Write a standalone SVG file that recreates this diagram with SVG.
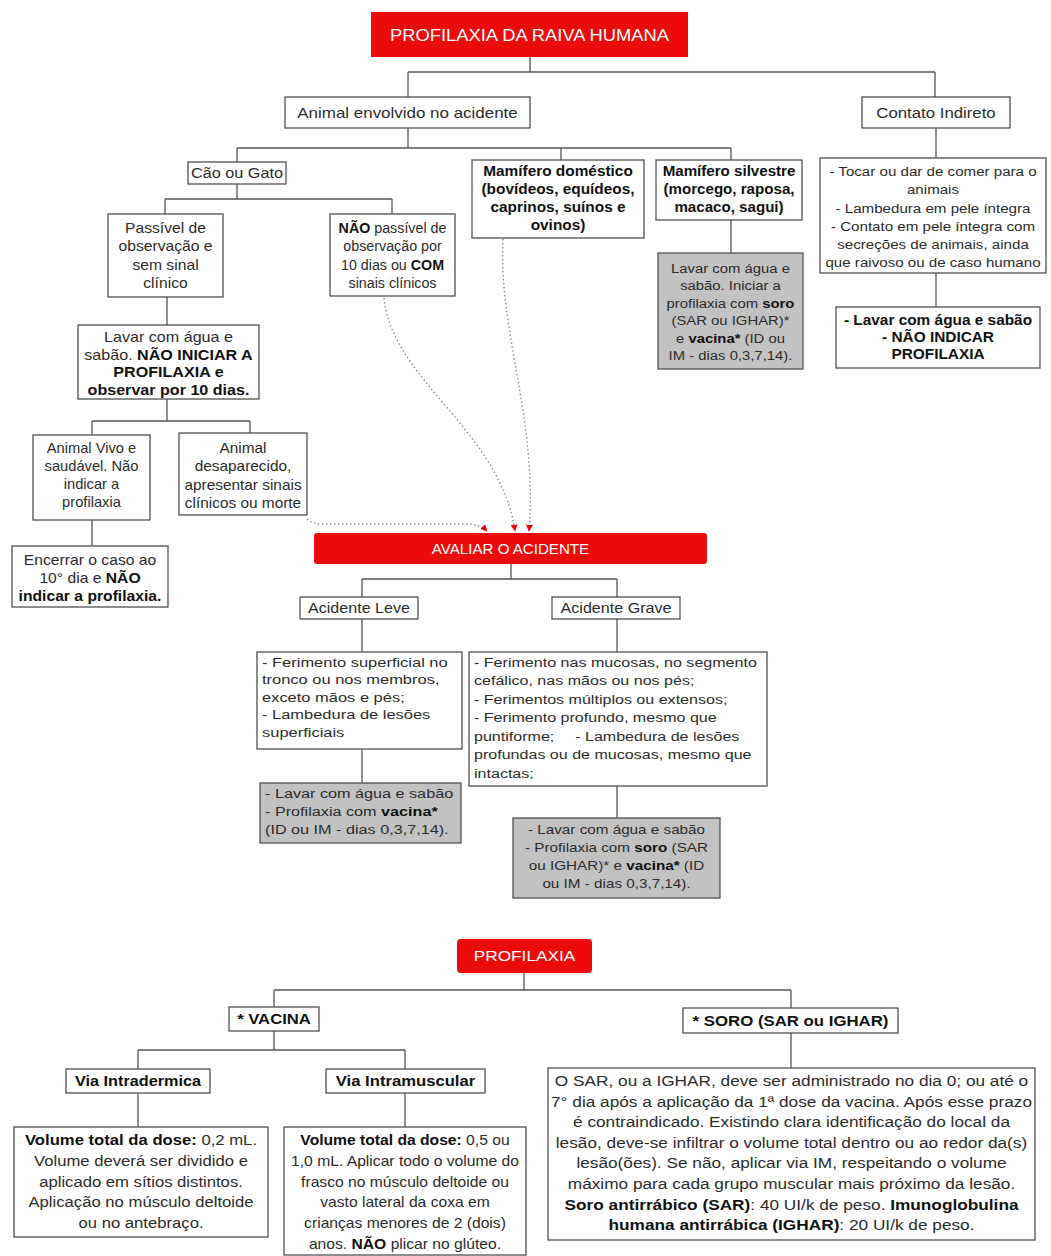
<svg xmlns="http://www.w3.org/2000/svg" width="1051" height="1256" viewBox="0 0 1051 1256">
<defs>
<style>
.bx{fill:#fff;stroke:#505050;stroke-width:1.3}
.gy{fill:#c2c2c2;stroke:#505050;stroke-width:1.3}
.rd{fill:#ec0b0b}
.t{font-family:"Liberation Sans",Arial,Helvetica,sans-serif;fill:#2b2b2b}
.m{text-anchor:middle}
.b{font-weight:bold;fill:#111}
.w{fill:#fff}
.ln{fill:none;stroke:#555;stroke-width:1.3}
.dt{fill:none;stroke:#8c8c8c;stroke-width:1.4;stroke-dasharray:1.5 2.5}
</style>
<marker id="arr" viewBox="0 0 10 10" refX="9" refY="5" markerWidth="5" markerHeight="5" orient="auto"><path d="M0,0 L10,5 L0,10 z" fill="#e00"/></marker>
</defs>
<rect width="1051" height="1256" fill="#fff"/>

<g id="connectors">
<path class="ln" d="M530 57V72M408 72H935M408 72V97M935 72V97"/>
<path class="ln" d="M408 128V148M237 148H731M237 148V162M561 148V160M731 148V160"/>
<path class="ln" d="M731 220V253"/>
<path class="ln" d="M936 128V158M936 273V307"/>
<path class="ln" d="M237 184V199M165 199H392M165 199V214M392 199V214"/>
<path class="ln" d="M167 297V325M167 399V421M92 421H250M92 421V435M250 421V433M92 520V546"/>
<path class="ln" d="M511 564V579M362 579H617M362 579V597M617 579V597M362 619V652M617 619V652M362 749V783M617 786V818"/>
<path class="ln" d="M524 973V990M274 990H791M274 990V1007M791 990V1008M274 1031V1050M138 1050H405M138 1050V1069M405 1050V1069M138 1093V1127M405 1093V1127M791 1033V1068"/>
<path class="dt" d="M307 519Q312 524 322 524H466Q480 524 487 531" marker-end="url(#arr)"/>
<path class="dt" d="M384 298C392 380 500 430 515 531" marker-end="url(#arr)"/>
<path class="dt" d="M503 239C498 330 538 420 529 531" marker-end="url(#arr)"/>
</g>

<g id="n-title">
<rect class="rd" x="371" y="12" width="317" height="45"/>
<text class="t m w" font-size="17" transform="translate(529.5 41) scale(1.08 1)">PROFILAXIA DA RAIVA HUMANA</text>
</g>

<g id="n-animal">
<rect class="bx" x="285" y="97" width="245" height="31"/>
<text class="t m" font-size="15" transform="translate(407.5 118) scale(1.13 1)">Animal envolvido no acidente</text>
</g>

<g id="n-contato">
<rect class="bx" x="862" y="97" width="148" height="31"/>
<text class="t m" font-size="15" transform="translate(936 118) scale(1.12 1)">Contato Indireto</text>
</g>

<g id="n-caogato">
<rect class="bx" x="188" y="162" width="98" height="22"/>
<text class="t m" font-size="14" transform="translate(237 178) scale(1.16 1)">Cão ou Gato</text>
</g>

<g id="n-domestico">
<rect class="bx" x="472" y="160" width="172" height="78"/>
<text class="t m b" font-size="14" transform="translate(558 176) scale(1.1 1)"><tspan x="0">Mamífero doméstico</tspan><tspan x="0" dy="18">(bovídeos, equídeos,</tspan><tspan x="0" dy="18">caprinos, suínos e</tspan><tspan x="0" dy="18">ovinos)</tspan></text>
</g>

<g id="n-silvestre">
<rect class="bx" x="656" y="160" width="146" height="60"/>
<text class="t m b" font-size="14" transform="translate(729 176) scale(1.08 1)"><tspan x="0">Mamífero silvestre</tspan><tspan x="0" dy="18">(morcego, raposa,</tspan><tspan x="0" dy="18">macaco, sagui)</tspan></text>
</g>

<g id="n-silvestre-conduta">
<rect class="gy" x="658" y="253" width="145" height="116"/>
<text class="t m" font-size="13.5" transform="translate(730.5 273) scale(1.1 1)"><tspan x="0">Lavar com água e</tspan><tspan x="0" dy="17.5">sabão. Iniciar a</tspan><tspan x="0" dy="17.5">profilaxia com <tspan class="b">soro</tspan></tspan><tspan x="0" dy="17.5">(SAR ou IGHAR)*</tspan><tspan x="0" dy="17.5">e <tspan class="b">vacina*</tspan> (ID ou</tspan><tspan x="0" dy="17.5">IM - dias 0,3,7,14).</tspan></text>
</g>

<g id="n-contato-desc">
<rect class="bx" x="820" y="158" width="226" height="115"/>
<text class="t m" font-size="13.5" transform="translate(933 176) scale(1.12 1)"><tspan x="0">- Tocar ou dar de comer para o</tspan><tspan x="0" dy="18.3">animais</tspan><tspan x="0" dy="18.3">- Lambedura em pele íntegra</tspan><tspan x="0" dy="18.3">- Contato em pele íntegra com</tspan><tspan x="0" dy="18.3">secreções de animais, ainda</tspan><tspan x="0" dy="18.3">que raivoso ou de caso humano</tspan></text>
</g>

<g id="n-contato-conduta">
<rect class="bx" x="836" y="307" width="204" height="61"/>
<text class="t m b" font-size="14" transform="translate(938 325) scale(1.1 1)"><tspan x="0">- Lavar com água e sabão</tspan><tspan x="0" dy="17">- NÃO INDICAR</tspan><tspan x="0" dy="17">PROFILAXIA</tspan></text>
</g>

<g id="n-passivel">
<rect class="bx" x="108" y="214" width="115" height="83"/>
<text class="t m" font-size="14" transform="translate(165.5 233) scale(1.12 1)"><tspan x="0">Passível de</tspan><tspan x="0" dy="18.5">observação e</tspan><tspan x="0" dy="18.5">sem sinal</tspan><tspan x="0" dy="18.5">clínico</tspan></text>
</g>

<g id="n-nao-passivel">
<rect class="bx" x="330" y="214" width="125" height="82"/>
<text class="t m" font-size="14" transform="translate(392.5 233) scale(1.02 1)"><tspan x="0"><tspan class="b">NÃO</tspan> passível de</tspan><tspan x="0" dy="18.5">observação por</tspan><tspan x="0" dy="18.5">10 dias ou <tspan class="b">COM</tspan></tspan><tspan x="0" dy="18.5">sinais clínicos</tspan></text>
</g>

<g id="n-lavar-observar">
<rect class="bx" x="78" y="325" width="181" height="74"/>
<text class="t m" font-size="14" transform="translate(168.5 342) scale(1.15 1)"><tspan x="0">Lavar com água e</tspan><tspan x="0" dy="17.7">sabão. <tspan class="b">NÃO INICIAR A</tspan></tspan><tspan x="0" dy="17.7" class="b">PROFILAXIA e</tspan><tspan x="0" dy="17.7" class="b">observar por 10 dias.</tspan></text>
</g>

<g id="n-vivo">
<rect class="bx" x="33" y="435" width="117" height="85"/>
<text class="t m" font-size="14" transform="translate(91.5 453) scale(1.05 1)"><tspan x="0">Animal Vivo e</tspan><tspan x="0" dy="18">saudável. Não</tspan><tspan x="0" dy="18">indicar a</tspan><tspan x="0" dy="18">profilaxia</tspan></text>
</g>

<g id="n-desaparecido">
<rect class="bx" x="179" y="433" width="128" height="82"/>
<text class="t m" font-size="14" transform="translate(243 453) scale(1.1 1)"><tspan x="0">Animal</tspan><tspan x="0" dy="18.3">desaparecido,</tspan><tspan x="0" dy="18.3">apresentar sinais</tspan><tspan x="0" dy="18.3">clínicos ou morte</tspan></text>
</g>

<g id="n-encerrar">
<rect class="bx" x="12" y="546" width="156" height="61"/>
<text class="t m" font-size="14" transform="translate(90 565) scale(1.12 1)"><tspan x="0">Encerrar o caso ao</tspan><tspan x="0" dy="18">10° dia e <tspan class="b">NÃO</tspan></tspan><tspan x="0" dy="18" class="b">indicar a profilaxia.</tspan></text>
</g>

<g id="n-avaliar">
<rect class="rd" x="314" y="533" width="393" height="31" rx="3"/>
<text class="t m w" font-size="14" transform="translate(510.5 554) scale(1.08 1)">AVALIAR O ACIDENTE</text>
</g>

<g id="n-leve">
<rect class="bx" x="300" y="597" width="118" height="22"/>
<text class="t m" font-size="14" transform="translate(359 613) scale(1.15 1)">Acidente Leve</text>
</g>

<g id="n-grave">
<rect class="bx" x="552" y="597" width="128" height="22"/>
<text class="t m" font-size="14" transform="translate(616 613) scale(1.15 1)">Acidente Grave</text>
</g>

<g id="n-leve-desc">
<rect class="bx" x="257" y="652" width="205" height="97"/>
<text class="t" font-size="13.5" transform="translate(262 667) scale(1.22 1)"><tspan x="0">- Ferimento superficial no</tspan><tspan x="0" dy="17.5">tronco ou nos membros,</tspan><tspan x="0" dy="17.5">exceto mãos e pés;</tspan><tspan x="0" dy="17.5">- Lambedura de lesões</tspan><tspan x="0" dy="17.5">superficiais</tspan></text>
</g>

<g id="n-grave-desc">
<rect class="bx" x="469" y="652" width="298" height="134"/>
<text class="t" font-size="13.5" transform="translate(474 667) scale(1.19 1)"><tspan x="0">- Ferimento nas mucosas, no segmento</tspan><tspan x="0" dy="18.5">cefálico, nas mãos ou nos pés;</tspan><tspan x="0" dy="18.5">- Ferimentos múltiplos ou extensos;</tspan><tspan x="0" dy="18.5">- Ferimento profundo, mesmo que</tspan><tspan x="0" dy="18.5">puntiforme;</tspan><tspan x="85">- Lambedura de lesões</tspan><tspan x="0" dy="18.5">profundas ou de mucosas, mesmo que</tspan><tspan x="0" dy="18.5">intactas;</tspan></text>
</g>

<g id="n-leve-conduta">
<rect class="gy" x="260" y="783" width="201" height="60"/>
<text class="t" font-size="13.5" transform="translate(265 798) scale(1.2 1)"><tspan x="0">- Lavar com água e sabão</tspan><tspan x="0" dy="18">- Profilaxia com <tspan class="b">vacina*</tspan></tspan><tspan x="0" dy="18">(ID ou IM - dias 0,3,7,14).</tspan></text>
</g>

<g id="n-grave-conduta">
<rect class="gy" x="513" y="818" width="207" height="80"/>
<text class="t m" font-size="13.5" transform="translate(616.5 834) scale(1.13 1)"><tspan x="0">- Lavar com água e sabão</tspan><tspan x="0" dy="18">- Profilaxia com <tspan class="b">soro</tspan> (SAR</tspan><tspan x="0" dy="18">ou IGHAR)* e <tspan class="b">vacina*</tspan> (ID</tspan><tspan x="0" dy="18">ou IM - dias 0,3,7,14).</tspan></text>
</g>

<g id="n-profilaxia">
<rect class="rd" x="457" y="939" width="135" height="34" rx="4"/>
<text class="t m w" font-size="15" transform="translate(524.5 961) scale(1.15 1)">PROFILAXIA</text>
</g>

<g id="n-vacina">
<rect class="bx" x="229" y="1007" width="90" height="24"/>
<text class="t m b" font-size="14.5" transform="translate(274 1024) scale(1.15 1)">* VACINA</text>
</g>

<g id="n-soro">
<rect class="bx" x="683" y="1008" width="215" height="25"/>
<text class="t m b" font-size="15" transform="translate(790.5 1026) scale(1.12 1)">* SORO (SAR ou IGHAR)</text>
</g>

<g id="n-id">
<rect class="bx" x="66" y="1069" width="144" height="24"/>
<text class="t m b" font-size="14.5" transform="translate(138 1086) scale(1.12 1)">Via Intradermica</text>
</g>

<g id="n-im">
<rect class="bx" x="326" y="1069" width="159" height="24"/>
<text class="t m b" font-size="14.5" transform="translate(405.5 1086) scale(1.15 1)">Via Intramuscular</text>
</g>

<g id="n-id-desc">
<rect class="bx" x="14" y="1127" width="254" height="110"/>
<text class="t m" font-size="14.5" transform="translate(141 1145) scale(1.15 1)"><tspan x="0"><tspan class="b">Volume total da dose:</tspan> 0,2 mL.</tspan><tspan x="0" dy="20.8">Volume deverá ser dividido e</tspan><tspan x="0" dy="20.8">aplicado em sítios distintos.</tspan><tspan x="0" dy="20.8">Aplicação no músculo deltoide</tspan><tspan x="0" dy="20.8">ou no antebraço.</tspan></text>
</g>

<g id="n-im-desc">
<rect class="bx" x="284" y="1127" width="242" height="128"/>
<text class="t m" font-size="14.5" transform="translate(405 1145) scale(1.08 1)"><tspan x="0"><tspan class="b">Volume total da dose:</tspan> 0,5 ou</tspan><tspan x="0" dy="20.8">1,0 mL. Aplicar todo o volume do</tspan><tspan x="0" dy="20.8">frasco no músculo deltoide ou</tspan><tspan x="0" dy="20.8">vasto lateral da coxa em</tspan><tspan x="0" dy="20.8">crianças menores de 2 (dois)</tspan><tspan x="0" dy="20.8">anos. <tspan class="b">NÃO</tspan> plicar no glúteo.</tspan></text>
</g>

<g id="n-soro-desc">
<rect class="bx" x="548" y="1068" width="487" height="172"/>
<text class="t m" font-size="14.5" transform="translate(791.5 1086) scale(1.19 1)"><tspan x="0">O SAR, ou a IGHAR, deve ser administrado no dia 0; ou até o</tspan><tspan x="0" dy="20.6">7° dia após a aplicação da 1ª dose da vacina. Após esse prazo</tspan><tspan x="0" dy="20.6">é contraindicado. Existindo clara identificação do local da</tspan><tspan x="0" dy="20.6">lesão, deve-se infiltrar o volume total dentro ou ao redor da(s)</tspan><tspan x="0" dy="20.6">lesão(ões). Se não, aplicar via IM, respeitando o volume</tspan><tspan x="0" dy="20.6">máximo para cada grupo muscular mais próximo da lesão.</tspan><tspan x="0" dy="20.6"><tspan class="b">Soro antirrábico (SAR)</tspan>: 40 UI/k de peso. <tspan class="b">Imunoglobulina</tspan></tspan><tspan x="0" dy="20.6"><tspan class="b">humana antirrábica (IGHAR)</tspan>: 20 UI/k de peso.</tspan></text>
</g>
</svg>
